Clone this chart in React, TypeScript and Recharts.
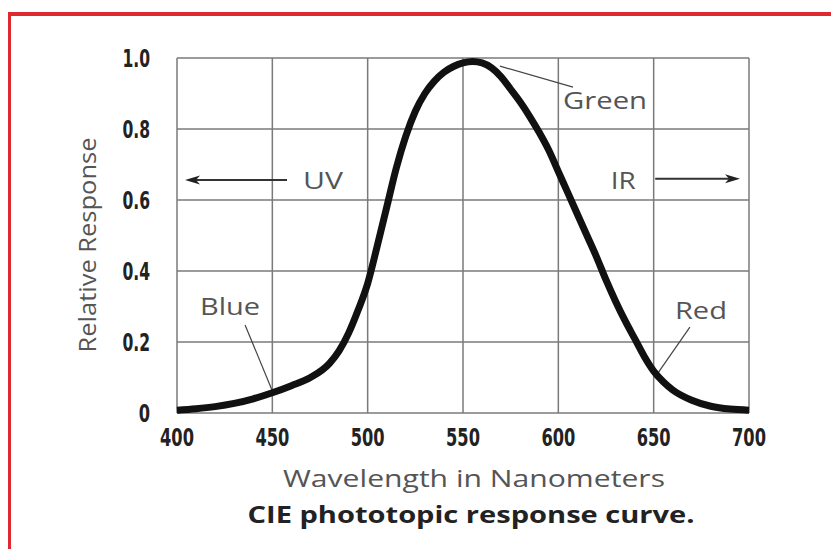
import { LineChart, Line, XAxis, YAxis, CartesianGrid, ReferenceLine, ReferenceDot } from 'recharts';

// wavelength (nm) and relative response
const wavelengths = [400, 410, 420, 430, 440, 450, 460, 470, 480, 485, 490, 495, 500, 505, 510, 515, 520, 525, 530, 535, 540, 545, 550, 555, 560, 565, 570, 575, 580, 585, 590, 595, 600, 605, 610, 615, 620, 625, 630, 635, 640, 645, 650, 655, 660, 670, 680, 690, 700];
const response = [0.008, 0.012, 0.018, 0.027, 0.04, 0.057, 0.077, 0.1, 0.14, 0.175, 0.225, 0.29, 0.365, 0.47, 0.58, 0.69, 0.78, 0.85, 0.9, 0.935, 0.96, 0.976, 0.986, 0.99, 0.986, 0.972, 0.947, 0.912, 0.876, 0.835, 0.79, 0.74, 0.68, 0.62, 0.56, 0.5, 0.44, 0.375, 0.315, 0.26, 0.21, 0.16, 0.118, 0.088, 0.065, 0.036, 0.019, 0.011, 0.008];

const xTicks = [400, 450, 500, 550, 600, 650, 700];
const yTicks = [0, 0.2, 0.4, 0.6, 0.8, 1.0];
const yTickLabels = ['0', '0.2', '0.4', '0.6', '0.8', '1.0'];

// annotation labels: [text, wavelength, response]
const tags: [string, number, number][] = [
  ['UV', 476.6, 0.656],
  ['IR', 634, 0.656],
  ['Green', 624.5, 0.88],
  ['Blue', 427.8, 0.3],
  ['Red', 674.8, 0.29],
];
const tagWidths = [40, 25, 84, 60, 52];

// leader lines from label to curve
const leaders: [number, number, number, number][] = [
  [569.4, 0.977, 607.7, 0.918],
  [435.7, 0.248, 449.8, 0.065],
  [669, 0.242, 652.3, 0.113],
];

// UV / IR arrows: from -> to (head at "to")
const arrows: [number, number, number, number][] = [
  [457.7, 0.656, 404.2, 0.656],
  [650.8, 0.66, 695.3, 0.66],
];

const data = wavelengths.map((w, i) => ({ nm: w, v: response[i] }));

const labelFont = "'Open Sans', 'Noto Sans', sans-serif";
const tickFont = "'DejaVu Sans Condensed', 'DejaVu Sans', sans-serif";

// condensed bold numerals: squeeze to the narrow widths of the original
const numWidth = (s: string) => s.replace(/\./g, '').length * 11.3 + (s.includes('.') ? 5 : 0);

const XTick = ({ x, y, payload }: any) => {
  const s = String(payload.value);
  return (
    <text x={x} y={y} dy={33} textAnchor="middle" textLength={numWidth(s)} lengthAdjust="spacingAndGlyphs"
      fontFamily={tickFont} fontWeight="bold" fontSize={25} fill="#222">
      {s}
    </text>
  );
};

const YTick = ({ x, y, payload }: any) => {
  const s = yTickLabels[yTicks.indexOf(payload.value)];
  return (
    <text x={x - 27} y={y} dy={9} textAnchor="end" textLength={numWidth(s)} lengthAdjust="spacingAndGlyphs"
      fontFamily={tickFont} fontWeight="bold" fontSize={25} fill="#222">
      {s}
    </text>
  );
};

const tagContent = (text: string, w: number) => (p: any) => {
  const vb = p.viewBox;
  const cx = vb.x + vb.width / 2;
  const cy = vb.y + vb.height / 2;
  return (
    <text x={cx} y={cy} dy={8.5} textAnchor="middle" textLength={w} lengthAdjust="spacingAndGlyphs"
      fontFamily={labelFont} fontSize={24} fill="#555">
      {text}
    </text>
  );
};

const arrowShape = (p: any) => {
  const { x1, y1, x2, y2 } = p;
  const dx = x2 - x1, dy = y2 - y1;
  const len = Math.sqrt(dx * dx + dy * dy) || 1;
  const ux = dx / len, uy = dy / len;
  const hl = 15, hw = 4.5;
  const bx = x2 - ux * hl, by = y2 - uy * hl;
  const pts = `${x2},${y2} ${bx - uy * hw},${by + ux * hw} ${bx + ux * 4},${by + uy * 4} ${bx + uy * hw},${by - ux * hw}`;
  return (
    <g>
      <line x1={x1} y1={y1} x2={bx + ux * 4} y2={by + uy * 4} stroke="#333" strokeWidth={2} />
      <polygon points={pts} fill="#222" />
    </g>
  );
};

const XTitle = () => (
  <g>
    <text x={474} y={487} textAnchor="middle" textLength={382} lengthAdjust="spacingAndGlyphs"
      fontFamily={labelFont} fontSize={24} fill="#555">
      Wavelength in Nanometers
    </text>
    <text x={471} y={523} textAnchor="middle" textLength={447} lengthAdjust="spacingAndGlyphs"
      fontFamily={labelFont} fontWeight="bold" fontSize={23} fill="#222">
      CIE phototopic response curve.
    </text>
  </g>
);

const YTitle = () => (
  <text x={96} y={245} transform="rotate(-90, 96, 245)" textAnchor="middle" textLength={215}
    lengthAdjust="spacingAndGlyphs" fontFamily={labelFont} fontSize={24} fill="#555">
    Relative Response
  </text>
);

export default function App() {
  return (
    <div style={{ position: 'absolute', left: 0, top: 0, width: 831, height: 549, background: '#fff', overflow: 'hidden' }}>
      <div style={{ position: 'absolute', left: 8, top: 12, width: 900, height: 600, borderTop: '4px solid #dd2a30', borderLeft: '3px solid #dd2a30' }} />
      <div style={{ position: 'absolute', left: 0, top: 0 }}>
        <LineChart width={831} height={549} data={data} margin={{ top: 58, right: 82, bottom: 0, left: 0 }}>
          <CartesianGrid stroke="#7a7a7a" strokeWidth={1.5} />
          <XAxis dataKey="nm" type="number" domain={[400, 700]} ticks={xTicks} height={136}
            axisLine={false} tickLine={false} tickSize={0} tickMargin={0} tick={<XTick />}
            label={{ content: XTitle }} />
          <YAxis type="number" domain={[0, 1]} ticks={yTicks} width={177}
            axisLine={false} tickLine={false} tickSize={0} tickMargin={0} tick={<YTick />}
            label={{ content: YTitle }} />
          {leaders.map((s, i) => (
            <ReferenceLine key={'l' + i} segment={[{ x: s[0], y: s[1] }, { x: s[2], y: s[3] }]} stroke="#444" strokeWidth={1.2} />
          ))}
          {arrows.map((s, i) => (
            <ReferenceLine key={'a' + i} segment={[{ x: s[0], y: s[1] }, { x: s[2], y: s[3] }]} shape={arrowShape} />
          ))}
          <Line type="monotone" dataKey="v" stroke="#111" strokeWidth={7} dot={false} isAnimationActive={false} />
          {tags.map((t, i) => (
            <ReferenceDot key={'t' + i} x={t[1]} y={t[2]} r={0} fill="none" stroke="none"
              label={{ content: tagContent(t[0], tagWidths[i]) }} />
          ))}
        </LineChart>
      </div>
    </div>
  );
}
